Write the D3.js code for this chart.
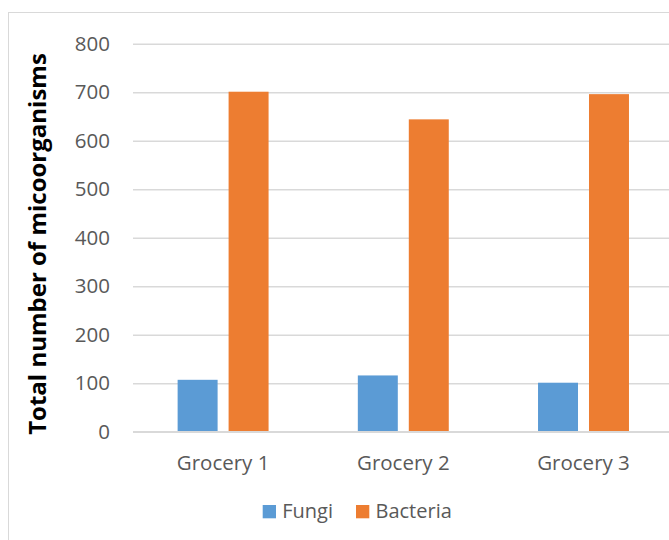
<!DOCTYPE html>
<html>
<head>
<meta charset="utf-8">
<script src="https://cdn.jsdelivr.net/npm/d3@7"></script>
<style>
  html, body { margin: 0; padding: 0; background: #fff; }
  svg { display: block; }
  text { font-family: "Open Sans", sans-serif; }
</style>
</head>
<body>
<svg id="chart" width="669" height="540"></svg>
<script>
// Microorganism counts per grocery
const categories = ["Grocery 1", "Grocery 2", "Grocery 3"];
const seriesNames = ["Fungi", "Bacteria"];
const fungi = [107, 116, 101];
const bacteria = [701, 644, 696];
const yTicks = [0, 100, 200, 300, 400, 500, 600, 700, 800];

const colors = { Fungi: "#5B9BD5", Bacteria: "#ED7D31" };
const values = { Fungi: fungi, Bacteria: bacteria };

const svg = d3.select("#chart");

// Outer chart frame
svg.append("rect")
  .attr("x", 8.5).attr("y", 12.5)
  .attr("width", 700).attr("height", 560)
  .attr("fill", "#fff")
  .attr("stroke", "#d9d9d9").attr("stroke-width", 1);

const plot = { left: 133, right: 673.6, top: 43.7, bottom: 431.7 };

const x0 = d3.scaleBand()
  .domain(categories)
  .range([plot.left, plot.right])
  .paddingInner(0).paddingOuter(0);

const x1 = d3.scaleBand()
  .domain(seriesNames)
  .range([0, x0.bandwidth()])
  .paddingInner(0.2157)
  .paddingOuter(0.8755);

const y = d3.scaleLinear()
  .domain([0, 800])
  .range([plot.bottom, plot.top]);

// Y axis with gridlines
const yAxis = svg.append("g")
  .attr("transform", `translate(${plot.left},0)`)
  .call(d3.axisLeft(y)
    .tickValues(yTicks)
    .tickSizeInner(-(669 - plot.left))
    .tickSizeOuter(0)
    .tickPadding(23));
yAxis.select(".domain").remove();
yAxis.selectAll(".tick line")
  .attr("stroke", "#d9d9d9").attr("stroke-width", 1.5);
yAxis.selectAll(".tick text")
  .attr("fill", "#595959")
  .style("font-size", "20.5px")
  .style("font-family", "'Open Sans', sans-serif");

// Bars
const groups = svg.append("g")
  .selectAll("g")
  .data(categories)
  .join("g")
  .attr("transform", d => `translate(${x0(d)},0)`);

groups.selectAll("rect")
  .data((d, i) => seriesNames.map(s => ({ s, v: values[s][i] })))
  .join("rect")
  .attr("x", d => x1(d.s))
  .attr("width", x1.bandwidth())
  .attr("y", d => y(d.v))
  .attr("height", d => y(0) - y(d.v))
  .attr("fill", d => colors[d.s]);

// X axis baseline and category labels
const xAxis = svg.append("g")
  .attr("transform", `translate(0,${plot.bottom})`)
  .call(d3.axisBottom(x0).tickSize(0).tickPadding(24));
xAxis.select(".domain").remove();
svg.append("line")
  .attr("x1", plot.left).attr("x2", 669)
  .attr("y1", plot.bottom).attr("y2", plot.bottom)
  .attr("stroke", "#d9d9d9").attr("stroke-width", 1.5);
xAxis.selectAll(".tick text")
  .attr("fill", "#595959")
  .style("font-size", "20.5px")
  .style("font-family", "'Open Sans', sans-serif");

// Y axis title
svg.append("text")
  .attr("transform", "translate(46,244) rotate(-90)")
  .attr("text-anchor", "middle")
  .style("font-size", "24px")
  .style("font-weight", "bold")
  .attr("fill", "#000")
  .text("Total number of micoorganisms");

// Legend
const legendItems = [
  { name: "Fungi", x: 262.7 },
  { name: "Bacteria", x: 356 }
];
const legend = svg.append("g");
legendItems.forEach(item => {
  legend.append("rect")
    .attr("x", item.x).attr("y", 505)
    .attr("width", 13.3).attr("height", 13.3)
    .attr("fill", colors[item.name]);
  legend.append("text")
    .attr("x", item.x + 19.5).attr("y", 518)
    .attr("fill", "#595959")
    .style("font-size", "20px")
    .text(item.name);
});
</script>
</body>
</html>
